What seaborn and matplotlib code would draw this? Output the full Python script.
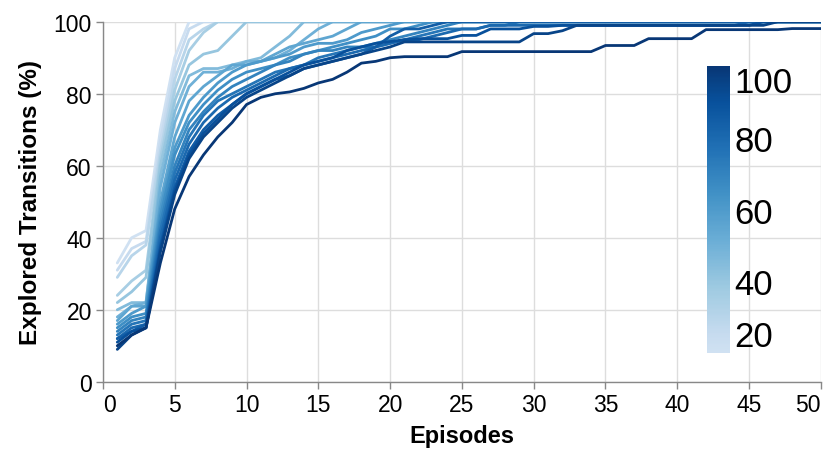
import numpy as np
import pandas as pd
import matplotlib
matplotlib.use("Agg")
import matplotlib.pyplot as plt
import matplotlib.colors as mcolors
import seaborn as sns


# =========================
# data
# =========================
EPISODES = list(range(1, 51))
SIZES = [20, 25, 30, 35, 40, 45, 50, 55, 60, 65, 70, 75, 80, 85, 90, 95, 100]

L20 = [33, 40, 42, 70, 90, 100, 100, 100, 100, 100,
       100, 100, 100, 100, 100, 100, 100, 100, 100, 100,
       100, 100, 100, 100, 100, 100, 100, 100, 100, 100,
       100, 100, 100, 100, 100, 100, 100, 100, 100, 100,
       100, 100, 100, 100, 100, 100, 100, 100, 100, 100]
L25 = [31, 37, 39, 67, 87, 98, 100, 100, 100, 100,
       100, 100, 100, 100, 100, 100, 100, 100, 100, 100,
       100, 100, 100, 100, 100, 100, 100, 100, 100, 100,
       100, 100, 100, 100, 100, 100, 100, 100, 100, 100,
       100, 100, 100, 100, 100, 100, 100, 100, 100, 100]
L30 = [29, 35, 38, 64, 84, 95, 98, 100, 100, 100,
       100, 100, 100, 100, 100, 100, 100, 100, 100, 100,
       100, 100, 100, 100, 100, 100, 100, 100, 100, 100,
       100, 100, 100, 100, 100, 100, 100, 100, 100, 100,
       100, 100, 100, 100, 100, 100, 100, 100, 100, 100]
L35 = [24, 28, 31, 62, 81, 92, 97, 100, 100, 100,
       100, 100, 100, 100, 100, 100, 100, 100, 100, 100,
       100, 100, 100, 100, 100, 100, 100, 100, 100, 100,
       100, 100, 100, 100, 100, 100, 100, 100, 100, 100,
       100, 100, 100, 100, 100, 100, 100, 100, 100, 100]
L40 = [22, 25, 29, 60, 78, 88, 91, 92, 96, 100,
       100, 100, 100, 100, 100, 100, 100, 100, 100, 100,
       100, 100, 100, 100, 100, 100, 100, 100, 100, 100,
       100, 100, 100, 100, 100, 100, 100, 100, 100, 100,
       100, 100, 100, 100, 100, 100, 100, 100, 100, 100]
L45 = [20, 22, 22, 57, 75, 85, 87, 87, 88, 89,
       90, 93, 96, 100, 100, 100, 100, 100, 100, 100,
       100, 100, 100, 100, 100, 100, 100, 100, 100, 100,
       100, 100, 100, 100, 100, 100, 100, 100, 100, 100,
       100, 100, 100, 100, 100, 100, 100, 100, 100, 100]
L50 = [18, 21, 22, 54, 72, 82, 86, 86, 87, 89,
       89, 90, 92, 95, 98, 100, 100, 100, 100, 100,
       100, 100, 100, 100, 100, 100, 100, 100, 100, 100,
       100, 100, 100, 100, 100, 100, 100, 100, 100, 100,
       100, 100, 100, 100, 100, 100, 100, 100, 100, 100]
L55 = [17, 21, 21, 50, 68, 78, 82, 85, 88, 88,
       89, 91, 93, 94, 95, 96, 98, 100, 100, 100,
       100, 100, 100, 100, 100, 100, 100, 100, 100, 100,
       100, 100, 100, 100, 100, 100, 100, 100, 100, 100,
       100, 100, 100, 100, 100, 100, 100, 100, 100, 100]
L60 = [16, 19, 21, 48, 65, 74, 79, 83, 86, 88,
       89, 90, 91, 93, 94, 94, 95, 97, 98, 99,
       100, 100, 100, 100, 100, 100, 100, 100, 100, 100,
       100, 100, 100, 100, 100, 100, 100, 100, 100, 100,
       100, 100, 100, 100, 100, 100, 100, 100, 100, 100]
L65 = [15, 18, 19, 46, 63, 72, 77, 81, 84, 86,
       87, 88, 90, 91, 92, 93, 94, 95, 96, 98,
       98, 99, 100, 100, 100, 100, 100, 100, 100, 100,
       100, 100, 100, 100, 100, 100, 100, 100, 100, 100,
       100, 100, 100, 100, 100, 100, 100, 100, 100, 100]
L70 = [14, 17, 18, 44, 60, 70, 75, 79, 82, 84,
       86, 88, 89, 91, 92, 92, 93, 93, 94, 95,
       96, 97, 98, 99, 100, 100, 100, 100, 100, 100,
       100, 100, 100, 100, 100, 100, 100, 100, 100, 100,
       100, 100, 100, 100, 100, 100, 100, 100, 100, 100]
L75 = [13, 16, 17, 42, 58, 68, 74, 78, 80, 82,
       84, 86, 87, 88, 90, 91, 92, 93, 93, 94,
       95, 96, 97, 98, 98, 98, 99, 99, 100, 100,
       100, 100, 100, 100, 100, 100, 100, 100, 100, 100,
       100, 100, 100, 100, 100, 100, 100, 100, 100, 100]
L80 = [12, 15, 16, 40, 56, 66, 72, 76, 79, 81,
       83, 85, 87, 88, 89, 90, 91, 92, 93, 94,
       95, 95, 96, 97, 98, 98, 99, 99, 99, 99,
       99, 99, 99, 99, 99, 99, 99, 99, 99, 99,
       99, 99, 99, 99, 100, 100, 100, 100, 100, 100]
L85 = [12, 14, 16, 38, 54, 64, 70, 74, 77, 80,
       82, 84, 85, 87, 88, 89, 90, 91, 93, 96,
       98, 98, 99, 100, 100, 100, 100, 100, 100, 100,
       100, 100, 100, 100, 100, 100, 100, 100, 100, 100,
       100, 100, 100, 100, 100, 100, 100, 100, 100, 100]
L90 = [11, 14, 15, 37, 53, 63, 69, 73, 77, 80,
       82, 84, 86, 88, 89, 90, 92, 93, 94, 94.5,
       95, 95.3, 95.3, 95.3, 96.2, 96.2, 98, 98, 98, 98.7,
       98.7, 99, 99, 99, 99, 99, 99, 99, 99, 99,
       99, 99, 99, 99, 99, 100, 100, 100, 100, 100]
L95 = [9, 13, 15, 36, 52, 62, 68, 72, 76, 79,
       81, 83, 85, 87, 88, 89, 90, 91, 92, 93,
       94.4, 94.4, 94.4, 94.4, 94.4, 94.4, 94.4, 94.4, 94.4, 96.7,
       96.7, 97.5, 99, 99, 99, 99, 99, 99, 99, 99,
       99, 99, 99, 99, 99, 99, 100, 100, 100, 100]
L100 = [10, 13, 15, 33, 48, 57, 63, 68, 72, 77,
        79, 80, 80.5, 81.5, 83, 84, 86, 88.5, 89, 90,
        90.3, 90.3, 90.3, 90.3, 91.7, 91.7, 91.7, 91.7, 91.7, 91.7,
        91.7, 91.7, 91.7, 91.7, 93.4, 93.4, 93.4, 95.3, 95.3, 95.3,
        95.3, 97.8, 97.8, 97.8, 97.8, 97.8, 97.8, 98.1, 98.1, 98.1]

SERIES = [L20, L25, L30, L35, L40, L45, L50, L55, L60,
          L65, L70, L75, L80, L85, L90, L95, L100]

CBAR_TICKS = [20, 40, 60, 80, 100]


# =========================
# style
# =========================
sns.set_theme(style="whitegrid")
plt.rcParams["font.family"] = ["Liberation Sans", "DejaVu Sans"]
plt.rcParams["text.color"] = "black"
plt.rcParams["axes.labelcolor"] = "black"

cmap = mcolors.LinearSegmentedColormap.from_list(
    "vega_blues", plt.cm.Blues(np.linspace(0.2, 0.97, 256)))
norm = mcolors.Normalize(vmin=20, vmax=100)

frames = []
for n, vals in zip(SIZES, SERIES):
    frames.append(pd.DataFrame({"episode": EPISODES, "explored": vals, "size": n}))
df = pd.concat(frames, ignore_index=True)

fig = plt.figure(figsize=(8.3, 4.64), dpi=100)
ax = fig.add_axes([0.124, 0.175, 0.865, 0.776])

sns.lineplot(data=df, x="episode", y="explored", hue="size", palette=cmap,
             hue_norm=norm, legend=False, linewidth=2.0, ax=ax,
             estimator=None, sort=True)

ax.set_xlim(0, 50)
ax.set_ylim(0, 100)
ax.set_xticks(range(0, 51, 5))
ax.set_yticks(range(0, 101, 20))
ax.set_xlabel("Episodes", fontsize=17, fontweight="bold", labelpad=6)
ax.set_ylabel("Explored Transitions (%)", fontsize=17.5, fontweight="bold", labelpad=8)

ax.set_facecolor("white")
ax.grid(True, color="#dddddd", linewidth=1.0)
for side in ["top", "right"]:
    ax.spines[side].set_visible(False)
for side in ["left", "bottom"]:
    ax.spines[side].set_visible(True)
    ax.spines[side].set_color("#888888")
    ax.spines[side].set_linewidth(1.0)
ax.tick_params(axis="both", which="major", labelsize=16.5, colors="#888888",
               labelcolor="black", length=5, width=1, direction="out",
               bottom=True, left=True, pad=3)

# first and last x labels sit flush with the axis ends
xlabels = ax.get_xticklabels()
xlabels[0].set_horizontalalignment("left")
xlabels[-1].set_horizontalalignment("right")

# colour legend inside the plot (top right)
cax = fig.add_axes([0.852, 0.237, 0.028, 0.6185])
sm = plt.cm.ScalarMappable(norm=norm, cmap=cmap)
cb = fig.colorbar(sm, cax=cax, ticks=CBAR_TICKS)
cb.outline.set_visible(False)
cax.tick_params(length=0, labelsize=25, pad=3, labelcolor="black")
labels = cax.get_yticklabels()
labels[0].set_verticalalignment("bottom")
labels[-1].set_verticalalignment("top")

fig.savefig("out.png", dpi=100)
